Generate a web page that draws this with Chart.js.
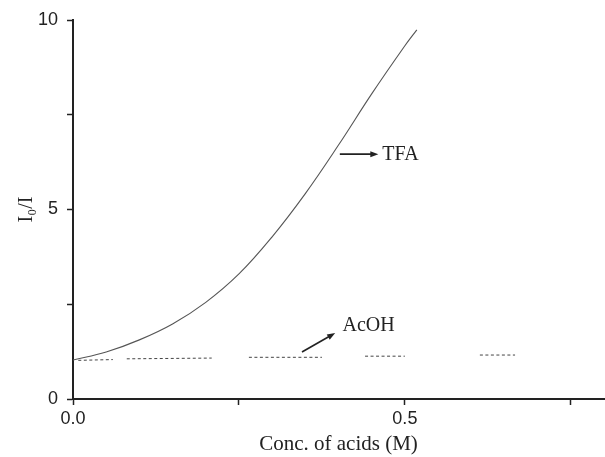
<!DOCTYPE html>
<html>
<head>
<meta charset="utf-8">
<script src="https://cdn.jsdelivr.net/npm/chart.js@4/dist/chart.umd.min.js"></script>
<style>
  html, body { margin:0; padding:0; background:#fff; }
  #wrap { width:605px; height:457px; }
</style>
</head>
<body>
<div id="wrap"><canvas id="acidChart" width="605" height="457"></canvas></div>
<script>
/* quenching curves: I0/I vs acid concentration */

const tfaConc = [0, 0.05, 0.10, 0.15, 0.20, 0.25, 0.30, 0.35, 0.40, 0.45, 0.50, 0.518];
const tfaRatio = [1.03, 1.24, 1.56, 1.98, 2.55, 3.30, 4.28, 5.42, 6.70, 8.05, 9.32, 9.74];

/* AcOH trace is broken into short dashed pieces; null = gap */
const acohConc = [0.008, 0.060, 0.070, 0.081, 0.209, 0.240, 0.265, 0.375, 0.410, 0.440, 0.500, 0.560, 0.613, 0.666];
const acohRatio = [1.02, 1.04, null, 1.06, 1.08, null, 1.10, 1.10, null, 1.13, 1.13, null, 1.16, 1.16];

const xTickValues = [0, 0.25, 0.5, 0.75];
const xTickLabels = ['0.0', '', '0.5', ''];
const yTickValues = [0, 2.5, 5, 7.5, 10];
const yTickLabels = ['0', '', '5', '', '10'];

const INK = '#222';
const SERIF = "'Liberation Serif', 'Times New Roman', serif";
const SANS = "'Liberation Sans', Arial, sans-serif";

/* ── labels with arrows, placed in data units ── */
const arrowNotes = {
    id: 'arrowNotes',
    afterDatasetsDraw(chart) {
        const { ctx, scales: { x, y } } = chart;
        const notes = [
            { from:[0.402, 6.46], to:[0.460, 6.46], text:'TFA',  at:[0.466, 6.46] },
            { from:[0.345, 1.24], to:[0.395, 1.74], text:'AcOH', at:[0.406, 1.95] }
        ];
        ctx.save();
        notes.forEach(n => {
            const x1 = x.getPixelForValue(n.from[0]), y1 = y.getPixelForValue(n.from[1]);
            const x2 = x.getPixelForValue(n.to[0]),   y2 = y.getPixelForValue(n.to[1]);
            const ang = Math.atan2(y2 - y1, x2 - x1);
            ctx.strokeStyle = INK; ctx.fillStyle = INK; ctx.lineWidth = 1.6;
            ctx.beginPath(); ctx.moveTo(x1, y1); ctx.lineTo(x2 - 5 * Math.cos(ang), y2 - 5 * Math.sin(ang)); ctx.stroke();
            ctx.beginPath();
            ctx.moveTo(x2, y2);
            ctx.lineTo(x2 - 8 * Math.cos(ang) + 3 * Math.sin(ang), y2 - 8 * Math.sin(ang) - 3 * Math.cos(ang));
            ctx.lineTo(x2 - 8 * Math.cos(ang) - 3 * Math.sin(ang), y2 - 8 * Math.sin(ang) + 3 * Math.cos(ang));
            ctx.closePath(); ctx.fill();
            ctx.font = `20px ${SERIF}`;
            ctx.textAlign = 'left'; ctx.textBaseline = 'middle';
            ctx.fillText(n.text, x.getPixelForValue(n.at[0]), y.getPixelForValue(n.at[1]) + 1);
        });
        ctx.restore();
    }
};

new Chart(document.getElementById('acidChart').getContext('2d'), {
    type: 'scatter',
    data: {
        datasets: [
            {
                label: 'TFA',
                data: tfaConc.map((c, i) => ({ x: c, y: tfaRatio[i] })),
                showLine: true, borderColor: '#555', borderWidth: 1.1,
                pointRadius: 0, tension: 0.4
            },
            {
                label: 'AcOH',
                data: acohConc.map((c, i) => ({ x: c, y: acohRatio[i] })),
                showLine: true, spanGaps: false, borderColor: '#444', borderWidth: 1,
                borderDash: [3, 2.5], pointRadius: 0
            }
        ]
    },
    options: {
        responsive: false,
        animation: false,
        layout: { padding: { top: 20, right: 1, left: 0, bottom: 0 } },
        plugins: { legend: { display: false }, tooltip: { enabled: false } },
        scales: {
            x: {
                type: 'linear', min: 0, max: 0.8,
                afterBuildTicks: s => { s.ticks = xTickValues.map(v => ({ value: v })); },
                afterFit: s => { s.height = 58; },
                grid: { drawOnChartArea: false, drawTicks: true, tickLength: 6, tickColor: INK, tickWidth: 1.5 },
                border: { color: INK, width: 2 },
                ticks: {
                    padding: 3, color: INK, maxRotation: 0, autoSkip: false,
                    font: { family: SANS, size: 18 },
                    callback: v => xTickLabels[xTickValues.indexOf(v)] ?? ''
                },
                title: { display: true, text: 'Conc. of acids (M)', color: INK,
                         font: { family: SERIF, size: 21 }, padding: { top: 0, bottom: 0 } }
            },
            y: {
                type: 'linear', min: 0, max: 10,
                afterBuildTicks: s => { s.ticks = yTickValues.map(v => ({ value: v })); },
                afterFit: s => { s.width = 73; },
                grid: { drawOnChartArea: false, drawTicks: true, tickLength: 6, tickColor: INK, tickWidth: 1.5 },
                border: { color: INK, width: 2 },
                ticks: {
                    padding: 9, color: INK, autoSkip: false,
                    font: { family: SANS, size: 18 },
                    callback: v => yTickLabels[yTickValues.indexOf(v)] ?? ''
                },
                title: { display: true, text: 'I\u2080/I', color: INK,
                         font: { family: SERIF, size: 20 }, padding: { top: 15, bottom: 0 } }
            }
        }
    },
    plugins: [arrowNotes]
});
</script>
</body>
</html>
